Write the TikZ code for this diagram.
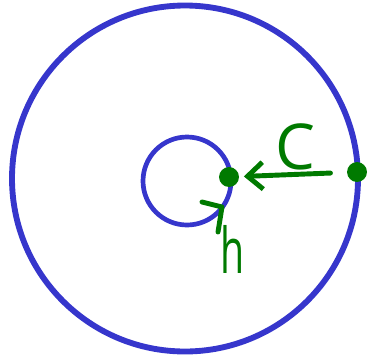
\documentclass[tikz,border=0pt]{standalone}
\usepackage{fontspec}
\usepackage{xcolor}
\usepackage{tikz}
\usetikzlibrary{arrows.meta}
\newfontfamily\handfont{Open Sans}
\definecolor{ring}{HTML}{3636CC}
\definecolor{leaf}{HTML}{007A00}
\tikzset{fig/.style={line join=round,line cap=round},
  rim/.style={ring,line width=5pt},
  pen/.style={leaf,line width=4.2pt},
  dot/.style={circle,fill=leaf,inner sep=0pt,minimum size=17pt},
  hand/.style={leaf,font=\handfont\fontsize{54}{54}\selectfont,inner sep=0pt}}
\begin{document}
\begin{tikzpicture}[fig,x=0.03cm,y=-0.03cm]
  \useasboundingbox(0,0)rectangle(367,358);
  \draw[rim](185,178.5)circle[radius=173];
  \draw[ring,line width=4pt](187,181)circle[radius=44];
  \node[dot](inner)at(229,177){};
  \node[dot](edge)at(357,172){};
  \draw[pen,-{Straight Barb[length=13pt,width=23pt]},shorten <=14pt,shorten >=4pt](edge)--(inner);
  \node[hand](c)at(295,147){C};
  \node[hand,xscale=0.62,transform shape](h)at(233,249){h};
  \coordinate(htail)at(218,232);
  \coordinate(htip)at(222,207);
  \coordinate(harm)at(202,202);
  \draw[pen](htail)--(htip)--(harm);
\end{tikzpicture}
\end{document}
